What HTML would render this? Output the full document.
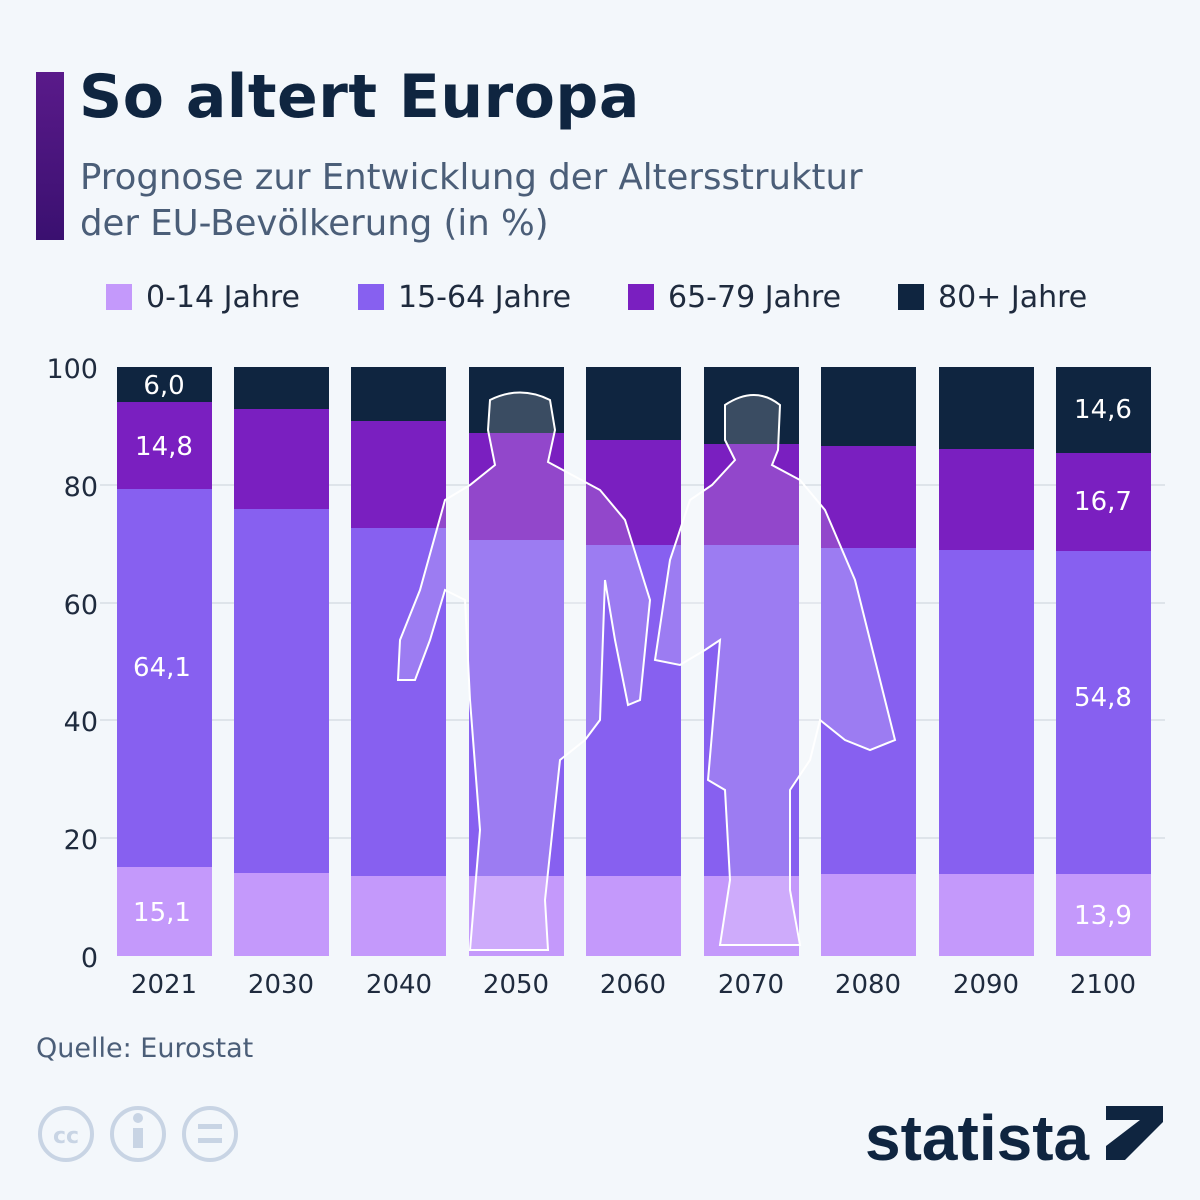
<!DOCTYPE html>
<html><head><meta charset="utf-8"><style>
body{margin:0;width:1200px;height:1200px;background:#f3f7fb;font-family:"DejaVu Sans","Liberation Sans",sans-serif;position:relative;overflow:hidden}
.a{position:absolute}
</style></head><body>
<div class="a" style="left:36px;top:72px;width:28px;height:168px;background:linear-gradient(#5a1a8a,#3a1070)"></div>
<div class="a" style="left:79px;top:62px;font-size:60px;font-weight:bold;color:#0f2540;letter-spacing:0.5px">So altert Europa</div>
<div class="a" style="left:80px;top:155px;font-size:35.5px;line-height:46px;color:#4b5e78">Prognose zur Entwicklung der Altersstruktur<br>der EU-Bevölkerung (in %)</div>
<svg class="a" style="left:0;top:0" width="1200" height="1200" font-family="DejaVu Sans, sans-serif">
<g font-size="30" fill="#1f2b3e">
<rect x="106" y="284" width="26" height="26" fill="#c499fb"/><text x="146" y="307">0-14 Jahre</text>
<rect x="358" y="284" width="26" height="26" fill="#8760f0"/><text x="398" y="307">15-64 Jahre</text>
<rect x="628" y="284" width="26" height="26" fill="#7a1fc0"/><text x="668" y="307">65-79 Jahre</text>
<rect x="898" y="284" width="26" height="26" fill="#0f2540"/><text x="938" y="307">80+ Jahre</text>
</g>
<g stroke="#c9d0d9" stroke-width="1">
<line x1="100" x2="1165" y1="485" y2="485"/><line x1="100" x2="1165" y1="603" y2="603"/><line x1="100" x2="1165" y1="720" y2="720"/><line x1="100" x2="1165" y1="838" y2="838"/>
</g>
<g font-size="27" fill="#1f2b3e" text-anchor="end">
<text x="98" y="378">100</text><text x="98" y="496">80</text><text x="98" y="614">60</text><text x="98" y="731">40</text><text x="98" y="849">20</text><text x="98" y="967">0</text>
</g>
<g id="bars"></g>
<g fill="#fff" fill-opacity="0.18" stroke="#fff" stroke-width="2">
<path d="M490,400 Q520,385 550,400 L555,430 L548,462 L600,490 L625,520 L650,600 L640,700 L628,705 L615,640 L605,580 L600,720 L585,740 L560,760 L545,900 L548,950 L470,950 L480,830 L470,700 L465,600 L445,590 L430,640 L415,680 L398,680 L400,640 L420,590 L445,500 L470,485 L495,465 L488,430 Z"/>
<path d="M725,405 Q755,385 780,405 L778,450 L772,465 L800,480 L825,510 L855,580 L880,680 L895,740 L870,750 L845,740 L820,720 L810,760 L790,790 L790,890 L800,945 L720,945 L730,880 L725,790 L708,780 L720,640 L705,650 L680,665 L655,660 L670,560 L690,500 L712,485 L735,460 L725,440 Z"/>
</g>
<g font-size="26" fill="#1f2b3e" text-anchor="middle">
<text x="164" y="993">2021</text><text x="281" y="993">2030</text><text x="399" y="993">2040</text><text x="516" y="993">2050</text><text x="633" y="993">2060</text><text x="751" y="993">2070</text><text x="868" y="993">2080</text><text x="986" y="993">2090</text><text x="1103" y="993">2100</text>
</g>
<g font-size="26" fill="#fff" text-anchor="middle">
<text x="164" y="394">6,0</text><text x="164" y="455">14,8</text><text x="162" y="676">64,1</text><text x="162" y="921">15,1</text>
<text x="1103" y="418">14,6</text><text x="1103" y="510">16,7</text><text x="1103" y="706">54,8</text><text x="1103" y="924">13,9</text>
</g>
<g fill="none" stroke="#c8d4e4" stroke-width="4">
<circle cx="66" cy="1134" r="26"/><circle cx="138" cy="1134" r="26"/><circle cx="210" cy="1134" r="26"/>
</g>
<text x="66" y="1143" font-size="22" font-weight="bold" fill="#c8d4e4" text-anchor="middle">cc</text>
<rect x="133" y="1128" width="10" height="20" fill="#c8d4e4"/><circle cx="138" cy="1118" r="5" fill="#c8d4e4"/>
<rect x="198" y="1124" width="24" height="5" fill="#c8d4e4"/><rect x="198" y="1138" width="24" height="5" fill="#c8d4e4"/>
<text x="865" y="1160" font-size="64" font-weight="bold" fill="#0f2540" font-family="Liberation Sans, sans-serif">statista</text>
<polygon points="1106,1106 1163,1106 1163,1122 1125,1160 1106,1160 1106,1146 1140,1120 1106,1120" fill="#0f2540"/>
</svg>
<div class="a" style="left:36px;top:1033px;font-size:27px;color:#4b5e78">Quelle: Eurostat</div>
<script>
var xs=[117,234,351,469,586,704,821,939,1056];
var b=[[867,489,402],[873,509,409],[876,528,421],[876,540,433],[876,545,440],[876,545,444],[874,548,446],[874,550,449],[874,551,453]];
var s='';
for(var i=0;i<9;i++){var x=xs[i],w=95,d=b[i];
s+='<rect x="'+x+'" y="367" width="'+w+'" height="'+(d[2]-367)+'" fill="#0f2540"/>';
s+='<rect x="'+x+'" y="'+d[2]+'" width="'+w+'" height="'+(d[1]-d[2])+'" fill="#7a1fc0"/>';
s+='<rect x="'+x+'" y="'+d[1]+'" width="'+w+'" height="'+(d[0]-d[1])+'" fill="#8760f0"/>';
s+='<rect x="'+x+'" y="'+d[0]+'" width="'+w+'" height="'+(956-d[0])+'" fill="#c499fb"/>';}
document.getElementById('bars').innerHTML=s;
</script>
</body></html>
